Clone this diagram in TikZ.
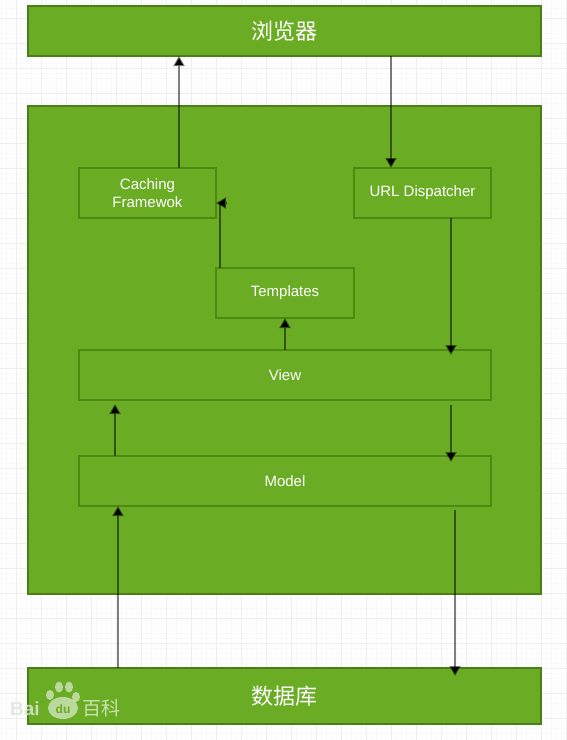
\documentclass[tikz,border=0pt]{standalone}
\usepackage{fontspec}
\setmainfont{Liberation Sans}
\newfontfamily\cjkfont{Noto Sans CJK SC}
\usepackage{xcolor}
\usetikzlibrary{arrows.meta,positioning}
\definecolor{leaf}{HTML}{6AAC24}
\definecolor{leafdark}{HTML}{4C8A12}
\definecolor{leafedge}{HTML}{4A7F18}
\definecolor{gridline}{HTML}{EEEEEE}
\definecolor{gridfaint}{HTML}{FAFAFA}
\definecolor{markpale}{HTML}{DDE6D8}
\tikzset{
    every picture/.style={line cap=butt,line join=miter},
    outerbox/.style={draw=leafedge,fill=leaf,line width=2pt,minimum width=513pt,
      inner sep=0pt,outer sep=0pt,text=white,font=\cjkfont\fontsize{22}{26}\selectfont},
    compbox/.style={draw=leafdark,fill=leaf,line width=2pt,minimum height=50pt,
      inner sep=0pt,outer sep=0pt,text=white,align=center,
      font=\fontsize{15}{18}\selectfont},
    flowarrow/.style={-{Triangle[length=10pt,width=11pt]},draw=black,draw opacity=0.5,
      line width=2pt},
    flowline/.style={draw=black,draw opacity=0.5,line width=2pt},
    markpaw/.style={fill=white,fill opacity=0.55,draw=none},
    marktext/.style={text=white,text opacity=0.65,inner sep=0pt}
}
\begin{document}
\begin{tikzpicture}[x=1pt,y=-1pt]
  \useasboundingbox (0,0) rectangle (567,740);
  % paper grid
  \begin{scope}[xshift=16.7pt,yshift=-18pt]
    \draw[gridfaint,line width=0.5pt,step=5pt] (-25pt,-725pt) grid (555pt,25pt);
    \draw[gridline,line width=0.8pt,step=25pt] (-25pt,-725pt) grid (555pt,25pt);
  \end{scope}
  % boxes
  \node[outerbox,minimum height=50pt] (browser) at (284.5,31) {浏览器};
  \node[outerbox,minimum height=488pt,below=50pt of browser] (django) {};
  \node[outerbox,minimum height=56pt,below=74pt of django] (database) {数据库};
  \node[compbox,minimum width=137pt,below right=62pt and 51pt of django.north west] (caching) {Caching\\Framewok};
  \node[compbox,minimum width=137pt,below left=62pt and 50pt of django.north east] (dispatcher) {URL Dispatcher};
  \node[compbox,minimum width=138pt,below right=50pt and 0pt of caching.south east] (templates) {Templates};
  \node[compbox,minimum width=412pt,below right=132pt and 0pt of caching.south west] (view) {View};
  \node[compbox,minimum width=412pt,below=56pt of view] (model) {Model};
  % connectors
  \draw[flowarrow] ([xshift=31.5pt]caching.north) -- ([xshift=31.5pt]caching.north |- browser.south);
  \draw[flowarrow] ([xshift=-31.5pt]dispatcher.north |- browser.south) -- ([xshift=-31.5pt]dispatcher.north);
  \draw[flowarrow] ([xshift=28.5pt]dispatcher.south) -- ([xshift=28.5pt,yshift=-5pt]dispatcher.south |- view.north);
  \draw[flowline] ([xshift=4pt]templates.north west) -- ([xshift=4pt,yshift=15pt]caching.south east);
  \draw[flowarrow] ([xshift=10pt,yshift=15pt]caching.south east) -- ([yshift=15pt]caching.south east);
  \draw[flowarrow] (view.north -| templates.south) -- (templates.south);
  \draw[flowarrow] ([xshift=-170pt]view.south |- model.north) -- ([xshift=-170pt,yshift=-4pt]view.south);
  \draw[flowarrow] ([xshift=166pt,yshift=-5pt]view.south) -- ([xshift=166pt,yshift=-6pt]view.south |- model.north);
  \draw[flowarrow] ([xshift=-167pt]model.south |- database.north) -- ([xshift=-167pt]model.south);
  \draw[flowarrow] ([xshift=170pt,yshift=-4pt]model.south) -- ([xshift=170pt,yshift=-8pt]model.south |- database.north);
  % watermark
  \fill[markpaw] (50,695) ellipse (4pt and 5pt);
  \fill[markpaw] (59,687) ellipse (4pt and 5.5pt);
  \fill[markpaw] (69,687) ellipse (4pt and 5.5pt);
  \fill[markpaw] (76,697) ellipse (4pt and 5pt);
  \fill[markpaw] (63,708) ellipse (15pt and 11pt);
  \node[text=markpale,text opacity=0.85,inner sep=0pt,font=\bfseries\fontsize{19}{22}\selectfont] (markbai) at (25,709) {Bai};
  \node[text=leaf,inner sep=0pt,font=\bfseries\fontsize{12}{14}\selectfont] (markdu) at (63,709) {du};
  \node[marktext,font=\cjkfont\fontsize{19}{22}\selectfont] (markbaike) at (101,708) {百科};
\end{tikzpicture}
\end{document}
